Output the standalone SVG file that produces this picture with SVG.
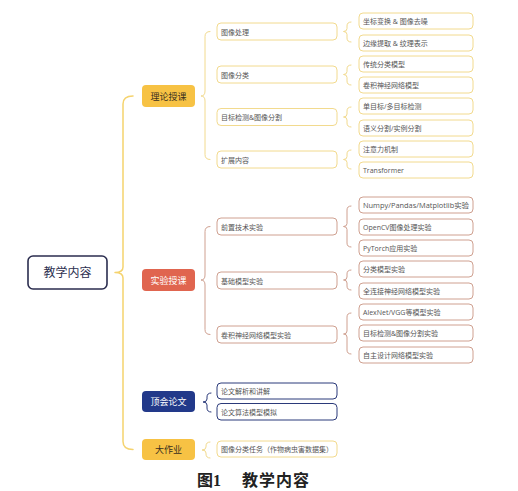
<svg xmlns="http://www.w3.org/2000/svg" width="518" height="491" viewBox="0 0 518 491">
<style>
text{font-family:"Open Sans","Noto Sans CJK SC",sans-serif;}
.t7{font-size:7px;fill:#555;}
.t9{font-size:9px;}
.br{fill:none;stroke-linecap:round;stroke-linejoin:round;}
.y{stroke:#F2DA8E;}
.r{stroke:#CFA090;}
.n{stroke:#2B3A7A;}
.box{fill:#fff;stroke-width:1;}
</style>
<rect width="518" height="491" fill="#fff"/>
<g id="connectors">
<path class="br" stroke="#F5D36E" stroke-width="1.5" d="M133,96 Q123,96 123,104 L123,267 Q123,272.5 115,272.5 Q123,272.5 123,278 L123,441.5 Q123,449.5 133,449.5"/>
<path class="br y" d="M210,31.5 Q205,31.5 205,36.5 L205,91 Q205,96 201,96 Q205,96 205,101 L205,154.5 Q205,159.5 210,159.5"/>
<path class="br r" d="M210,226.5 Q205,226.5 205,231.5 L205,275 Q205,280 201,280 Q205,280 205,285 L205,329.5 Q205,334.5 210,334.5"/>
<path class="br n" d="M211,393 Q207,393 207,397 L207,399 Q207,402 203,402 Q207,402 207,405 L207,408 Q207,412 211,412"/>
<path class="br y" d="M210,442 Q206,442 206,446 L206,447 Q206,450 202,450 Q206,450 206,453 L206,454 Q206,458 210,458"/>
<path class="br y" d="M351,22 Q347,22 347,26 L347,28.5 Q347,31.5 343.5,31.5 Q347,31.5 347,34.5 L347,38 Q347,42 351,42"/>
<path class="br y" d="M351,65 Q347,65 347,69 L347,71.5 Q347,74.5 343.5,74.5 Q347,74.5 347,77.5 L347,81 Q347,85 351,85"/>
<path class="br y" d="M351,107 Q347,107 347,111 L347,114 Q347,117 343.5,117 Q347,117 347,120 L347,123 Q347,127 351,127"/>
<path class="br y" d="M351,150 Q347,150 347,154 L347,156.5 Q347,159.5 343.5,159.5 Q347,159.5 347,162.5 L347,165 Q347,169 351,169"/>
<path class="br r" d="M351,206 Q347,206 347,210 L347,223.5 Q347,226.5 343.5,226.5 Q347,226.5 347,229.5 L347,243 Q347,247 351,247"/>
<path class="br r" d="M351,270 Q347,270 347,274 L347,277 Q347,280 343.5,280 Q347,280 347,283 L347,286 Q347,290 351,290"/>
<path class="br r" d="M351,313 Q347,313 347,317 L347,331 Q347,334 343.5,334 Q347,334 347,337 L347,350 Q347,354 351,354"/>
</g>
<g id="root">
<rect x="28" y="256" width="79" height="33" rx="5" fill="#fff" stroke="#2B2D4F" stroke-width="1.6"/>
<text x="67.5" y="277" text-anchor="middle" font-size="12" fill="#2D3050">教学内容</text>
</g>
<g id="theory">
<rect x="142" y="85" width="53" height="22" rx="4" fill="#F7C244"/>
<text x="168.5" y="99.5" text-anchor="middle" class="t9" fill="#3A3020">理论授课</text>
</g>
<g id="experiment">
<rect x="142" y="269" width="53" height="22" rx="4" fill="#E0654F"/>
<text x="168.5" y="283.5" text-anchor="middle" class="t9" fill="#fff">实验授课</text>
</g>
<g id="paper">
<rect x="142" y="391" width="53" height="21" rx="4" fill="#22398A"/>
<text x="168.5" y="405" text-anchor="middle" class="t9" fill="#fff">顶会论文</text>
</g>
<g id="project">
<rect x="142" y="439" width="53" height="21" rx="4" fill="#F7C244"/>
<text x="168.5" y="453" text-anchor="middle" class="t9" fill="#3A3020">大作业</text>
</g>
<g id="t-img-proc"><rect class="box y" x="217" y="23" width="120" height="17" rx="4"/><text class="t7" x="221" y="34.5">图像处理</text></g>
<g id="t-img-cls"><rect class="box y" x="217" y="66" width="120" height="17" rx="4"/><text class="t7" x="221" y="77.5">图像分类</text></g>
<g id="t-det-seg"><rect class="box y" x="217" y="108.5" width="120" height="17" rx="4"/><text class="t7" x="221" y="120">目标检测&amp;图像分割</text></g>
<g id="t-ext"><rect class="box y" x="217" y="151" width="120" height="17" rx="4"/><text class="t7" x="221" y="162.5">扩展内容</text></g>
<g id="l-coord"><rect class="box y" x="359" y="13" width="114" height="16" rx="4"/><text class="t7" x="363" y="24">坐标变换 &amp; 图像去噪</text></g>
<g id="l-edge"><rect class="box y" x="359" y="35" width="114" height="16" rx="4"/><text class="t7" x="363" y="46">边缘提取 &amp; 纹理表示</text></g>
<g id="l-trad"><rect class="box y" x="359" y="56" width="114" height="16" rx="4"/><text class="t7" x="363" y="67">传统分类模型</text></g>
<g id="l-cnn"><rect class="box y" x="359" y="77" width="114" height="16" rx="4"/><text class="t7" x="363" y="88">卷积神经网络模型</text></g>
<g id="l-det"><rect class="box y" x="359" y="98" width="114" height="16" rx="4"/><text class="t7" x="363" y="109">单目标/多目标检测</text></g>
<g id="l-seg"><rect class="box y" x="359" y="120" width="114" height="16" rx="4"/><text class="t7" x="363" y="131">语义分割/实例分割</text></g>
<g id="l-att"><rect class="box y" x="359" y="141" width="114" height="16" rx="4"/><text class="t7" x="363" y="152">注意力机制</text></g>
<g id="l-trans"><rect class="box y" x="359" y="162" width="114" height="16" rx="4"/><text class="t7" x="363" y="173">Transformer</text></g>
<g id="e-pre"><rect class="box r" x="217" y="218" width="120" height="17" rx="4"/><text class="t7" x="221" y="229.5">前置技术实验</text></g>
<g id="e-basic"><rect class="box r" x="217" y="272" width="120" height="17" rx="4"/><text class="t7" x="221" y="283.5">基础模型实验</text></g>
<g id="e-cnn"><rect class="box r" x="217" y="326" width="120" height="17" rx="4"/><text class="t7" x="221" y="337.5">卷积神经网络模型实验</text></g>
<g id="l-numpy"><rect class="box r" x="359" y="197" width="114" height="16" rx="4"/><text class="t7" x="363" y="208" textLength="106" lengthAdjust="spacingAndGlyphs">Numpy/Pandas/Matplotlib实验</text></g>
<g id="l-opencv"><rect class="box r" x="359" y="219" width="114" height="16" rx="4"/><text class="t7" x="363" y="230">OpenCV图像处理实验</text></g>
<g id="l-torch"><rect class="box r" x="359" y="240" width="114" height="16" rx="4"/><text class="t7" x="363" y="251">PyTorch应用实验</text></g>
<g id="l-clsexp"><rect class="box r" x="359" y="261" width="114" height="16" rx="4"/><text class="t7" x="363" y="272">分类模型实验</text></g>
<g id="l-fc"><rect class="box r" x="359" y="283" width="114" height="16" rx="4"/><text class="t7" x="363" y="294">全连接神经网络模型实验</text></g>
<g id="l-alex"><rect class="box r" x="359" y="304" width="114" height="16" rx="4"/><text class="t7" x="363" y="315">AlexNet/VGG等模型实验</text></g>
<g id="l-detseg"><rect class="box r" x="359" y="325" width="114" height="16" rx="4"/><text class="t7" x="363" y="336">目标检测&amp;图像分割实验</text></g>
<g id="l-self"><rect class="box r" x="359" y="347" width="114" height="16" rx="4"/><text class="t7" x="363" y="358">自主设计网络模型实验</text></g>
<g id="p-read"><rect class="box n" x="217" y="383" width="120" height="16" rx="4"/><text class="t7" x="221" y="394" fill="#444">论文解析和讲解</text></g>
<g id="p-sim"><rect class="box n" x="217" y="403.5" width="120" height="16.5" rx="4"/><text class="t7" x="221" y="414.5" fill="#444">论文算法模型模拟</text></g>
<g id="a-task"><rect class="box y" x="217" y="441" width="120" height="16" rx="4"/><text class="t7" x="221" y="452">图像分类任务（作物病虫害数据集）</text></g>
<g id="caption">
<text x="197" y="486" font-family="'Liberation Serif','Noto Sans CJK SC',serif" font-size="16" font-weight="bold" fill="#222">图<tspan font-family="'Liberation Serif',serif">1</tspan></text>
<text x="242" y="486" font-family="'Noto Sans CJK SC',sans-serif" font-size="16" font-weight="bold" fill="#222" letter-spacing="1">教学内容</text>
</g>
</svg>
